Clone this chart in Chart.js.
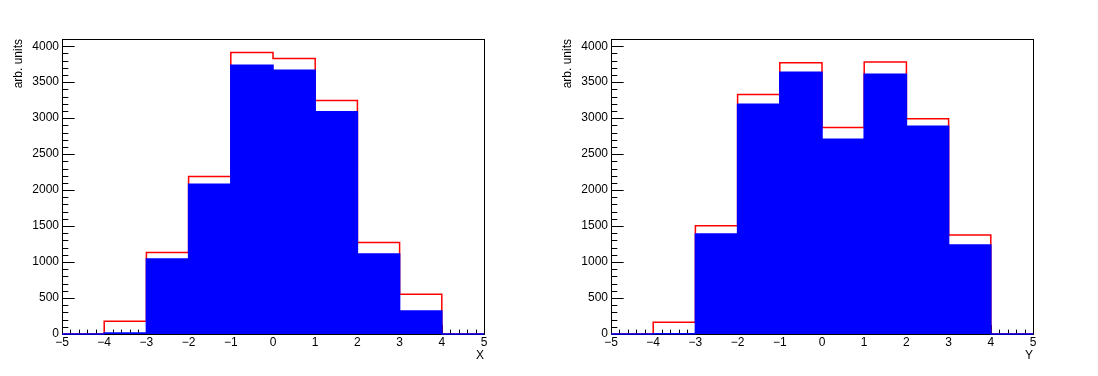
<!DOCTYPE html>
<html>
<head>
<meta charset="utf-8">
<script src="https://cdn.jsdelivr.net/npm/chart.js@4"></script>
<style>
  html, body { margin: 0; padding: 0; background: #fff; }
  .pad { position: absolute; top: 0; width: 549px; height: 376px; }
</style>
</head>
<body>
<div class="pad" style="left:0"><canvas id="padX" width="549" height="376"></canvas></div>
<div class="pad" style="left:549px"><canvas id="padY" width="549" height="376"></canvas></div>
<script>
// bin edges shared by both histograms (10 bins of width 1)
const binEdges = [-5, -4, -3, -2, -1, 0, 1, 2, 3, 4, 5];

// left pad: X distribution
const xRedCounts  = [0, 176, 1134, 2190, 3912, 3829, 3246, 1273, 551, 0];
const xBlueCounts = [0, 15, 1042, 2083, 3736, 3667, 3088, 1111, 319, 0];

// right pad: Y distribution
const yRedCounts  = [0, 162, 1505, 3329, 3769, 2870, 3782, 2991, 1375, 0];
const yBlueCounts = [0, 3, 1389, 3194, 3639, 2708, 3611, 2889, 1236, 0];

// axis labels
const xTickValues = [-5, -4, -3, -2, -1, 0, 1, 2, 3, 4, 5];
const yTickValues = [0, 500, 1000, 1500, 2000, 2500, 3000, 3500, 4000];
const yAxisTitle = 'arb. units';
const yMax = 4100;

const FONT = '"Liberation Sans", Arial, Helvetica, sans-serif';

// turn bin contents into step points: one point per left edge, plus the last edge
function stepPoints(counts) {
    const pts = counts.map((c, i) => ({ x: binEdges[i], y: c }));
    pts.push({ x: binEdges[binEdges.length - 1], y: counts[counts.length - 1] });
    return pts;
}

function fmt(v) {
    return v < 0 ? '\u2212' + Math.abs(v) : String(v);
}

// ROOT-like frame with ticks pointing inward
const frameTicks = {
    id: 'frameTicks',
    beforeDatasetsDraw(chart) {
        const { ctx, chartArea: a, scales } = chart;
        ctx.save();
        ctx.strokeStyle = '#000';
        ctx.lineWidth = 1;
        ctx.strokeRect(a.left + 0.5, a.top + 0.5, a.right - a.left, a.bottom - a.top);

        ctx.beginPath();
        const h = a.bottom - a.top, w = a.right - a.left;
        for (let i = 0; i <= 50; i++) {
            const v = -5 + i * 0.2;
            const px = Math.round(scales.x.getPixelForValue(v)) + 0.5;
            const len = (i % 5 === 0) ? 0.03 * h : 0.015 * h;
            ctx.moveTo(px, a.bottom);
            ctx.lineTo(px, a.bottom - len);
        }
        for (let v = 0; v <= yMax; v += 100) {
            const py = Math.round(scales.y.getPixelForValue(v)) + 0.5;
            const len = (v % 500 === 0) ? 0.03 * w : 0.015 * w;
            ctx.moveTo(a.left, py);
            ctx.lineTo(a.left + len, py);
        }
        ctx.stroke();
        ctx.restore();
    },
    afterDraw(chart) {
        const { ctx, chartArea: a } = chart;
        const xt = chart.options.plugins.frameTicks.xTitle;
        ctx.save();
        ctx.fillStyle = '#000';
        ctx.font = '12px ' + FONT;
        ctx.textAlign = 'right';
        ctx.textBaseline = 'alphabetic';
        ctx.fillText(xt, a.right, 359);
        ctx.translate(22, a.top);
        ctx.rotate(-Math.PI / 2);
        ctx.fillText(yAxisTitle, 0, 0);
        ctx.restore();
    }
};

function makeHist(id, redCounts, blueCounts, xTitle) {
    const ctx = document.getElementById(id).getContext('2d');
    new Chart(ctx, {
        type: 'line',
        data: {
            datasets: [{
                data: stepPoints(blueCounts),
                borderColor: '#0000ff',
                backgroundColor: '#0000ff',
                borderWidth: 1.5,
                stepped: 'before',
                fill: 'origin',
                pointRadius: 0,
                clip: 2,
                order: 1
            }, {
                data: stepPoints(redCounts),
                borderColor: '#ff0000',
                borderWidth: 1.5,
                stepped: 'before',
                fill: false,
                pointRadius: 0,
                order: 2
            }]
        },
        options: {
            responsive: false,
            animation: false,
            devicePixelRatio: 1,
            layout: { padding: { top: 39, right: 65, left: 0, bottom: 0 } },
            plugins: {
                legend: { display: false },
                tooltip: { enabled: false },
                frameTicks: { xTitle: xTitle }
            },
            scales: {
                x: {
                    type: 'linear',
                    min: -5,
                    max: 5,
                    grid: { display: false, drawTicks: false },
                    border: { display: false },
                    ticks: {
                        autoSkip: false,
                        maxRotation: 0,
                        padding: 1,
                        color: '#000',
                        font: { family: FONT, size: 12 },
                        callback: v => fmt(v)
                    },
                    afterBuildTicks(scale) { scale.ticks = xTickValues.map(v => ({ value: v })); },
                    afterFit(scale) { scale.height = 42; }
                },
                y: {
                    min: 0,
                    max: yMax,
                    grid: { display: false, drawTicks: false },
                    border: { display: false },
                    ticks: {
                        autoSkip: false,
                        padding: 3,
                        color: '#000',
                        font: { family: FONT, size: 12 },
                        callback: v => fmt(v)
                    },
                    afterBuildTicks(scale) { scale.ticks = yTickValues.map(v => ({ value: v })); },
                    afterFit(scale) { scale.width = 62; }
                }
            }
        },
        plugins: [frameTicks]
    });
}

makeHist('padX', xRedCounts, xBlueCounts, 'X');
makeHist('padY', yRedCounts, yBlueCounts, 'Y');
</script>
</body>
</html>
